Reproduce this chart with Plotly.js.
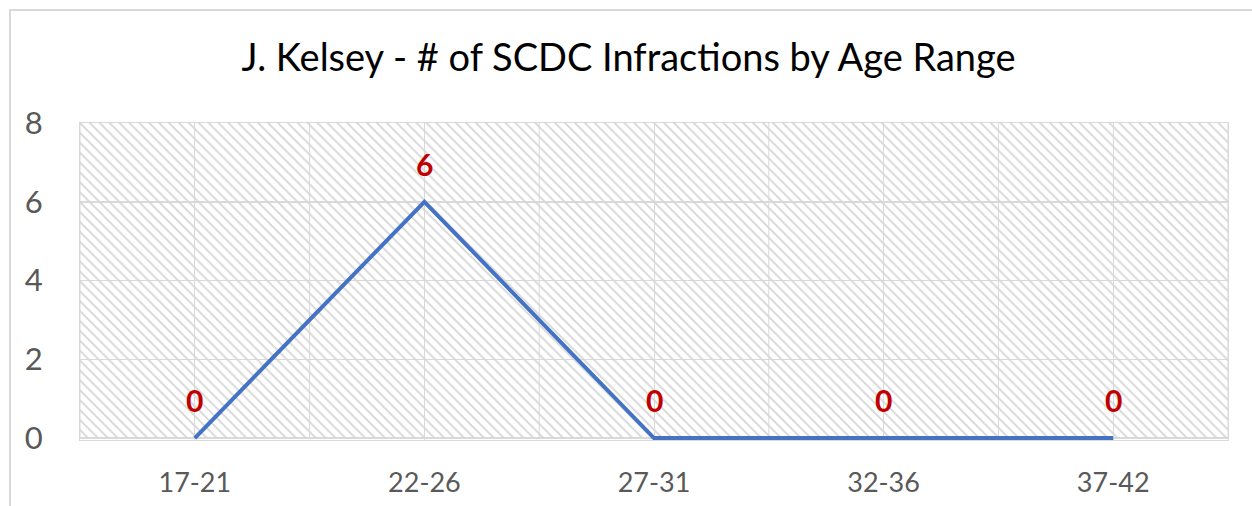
<!DOCTYPE html>
<html>
<head>
<meta charset="utf-8">
<script src="https://cdn.plot.ly/plotly-3.0.1.min.js"></script>
<style>
  html, body { margin: 0; padding: 0; background: #ffffff; overflow: hidden; }
  #chart { width: 1252px; height: 506px; position: absolute; left: 0; top: 0; }
  #frame { position: absolute; left: 9px; top: 9px; width: 1400px; height: 700px;
           border: 2px solid #d9d9d9; pointer-events: none; z-index: 5; box-sizing: border-box; }
</style>
</head>
<body>
<div id="chart"></div>
<div id="frame"></div>
<script>
const chartTitle = "J. Kelsey - # of SCDC Infractions by Age Range";
const ageRanges = ["17-21", "22-26", "27-31", "32-36", "37-42"];
const infractions = [0, 6, 0, 0, 0];
const yTicks = [0, 2, 4, 6, 8];
const yMax = 8;

const gridColor = "#d9d9d9";

// Hatched plot-area background, spanning all categories
const background = {
  type: "bar",
  x: [ageRanges[Math.floor(ageRanges.length / 2)]],
  y: [yMax],
  width: [ageRanges.length],
  marker: {
    color: "#d6d6d6",
    line: { width: 0 },
    pattern: { shape: "\\", fillmode: "replace", size: 7, solidity: 0.26 }
  },
  hoverinfo: "skip",
  showlegend: false
};

const line = {
  type: "scatter",
  mode: "lines",
  x: ageRanges,
  y: infractions,
  line: { color: "#4472c4", width: 4 },
  showlegend: false
};

// gridlines between categories
const shapes = [];
for (let i = 0; i <= ageRanges.length; i++) {
  shapes.push({
    type: "line", layer: "below", xref: "x", yref: "y",
    x0: i - 0.5, x1: i - 0.5, y0: 0, y1: yMax,
    line: { color: gridColor, width: 1 }
  });
}

const annotations = ageRanges.map((c, i) => ({
  x: c, y: infractions[i], xref: "x", yref: "y",
  text: String(infractions[i]),
  showarrow: false, yanchor: "middle", yshift: 38,
  font: { family: "Lato, sans-serif", size: 30, color: "#c00000", weight: "bold" }
}));

const layout = {
  width: 1252, height: 506,
  margin: { l: 80, r: 24, t: 123, b: 66 },
  paper_bgcolor: "#ffffff",
  plot_bgcolor: "#ffffff",
  font: { family: "Lato, sans-serif", color: "#595959" },
  title: {
    text: chartTitle,
    font: { family: "Lato, sans-serif", size: 38, color: "#000000" },
    x: 0.502, xanchor: "center", y: 0.885, yanchor: "middle"
  },
  xaxis: {
    type: "category",
    categoryorder: "array", categoryarray: ageRanges,
    range: [-0.5, ageRanges.length - 0.5],
    showgrid: true, gridcolor: gridColor, gridwidth: 1,
    showline: true, linecolor: gridColor, linewidth: 1, mirror: true,
    layer: "below traces",
    ticks: "", ticklabelstandoff: 19,
    tickfont: { size: 27, color: "#595959" },
    zeroline: false, fixedrange: true
  },
  yaxis: {
    range: [-0.05, yMax],
    tickvals: yTicks,
    showgrid: true, gridcolor: gridColor, gridwidth: 1.5,
    showline: true, linecolor: gridColor, linewidth: 1, mirror: true,
    layer: "below traces",
    ticks: "", ticklabelstandoff: 30,
    tickfont: { size: 31, color: "#595959" },
    zeroline: false, fixedrange: true
  },
  bargap: 0,
  shapes: shapes,
  annotations: annotations
};

Plotly.newPlot("chart", [background, line], layout, { displayModeBar: false, staticPlot: true });
</script>
</body>
</html>
